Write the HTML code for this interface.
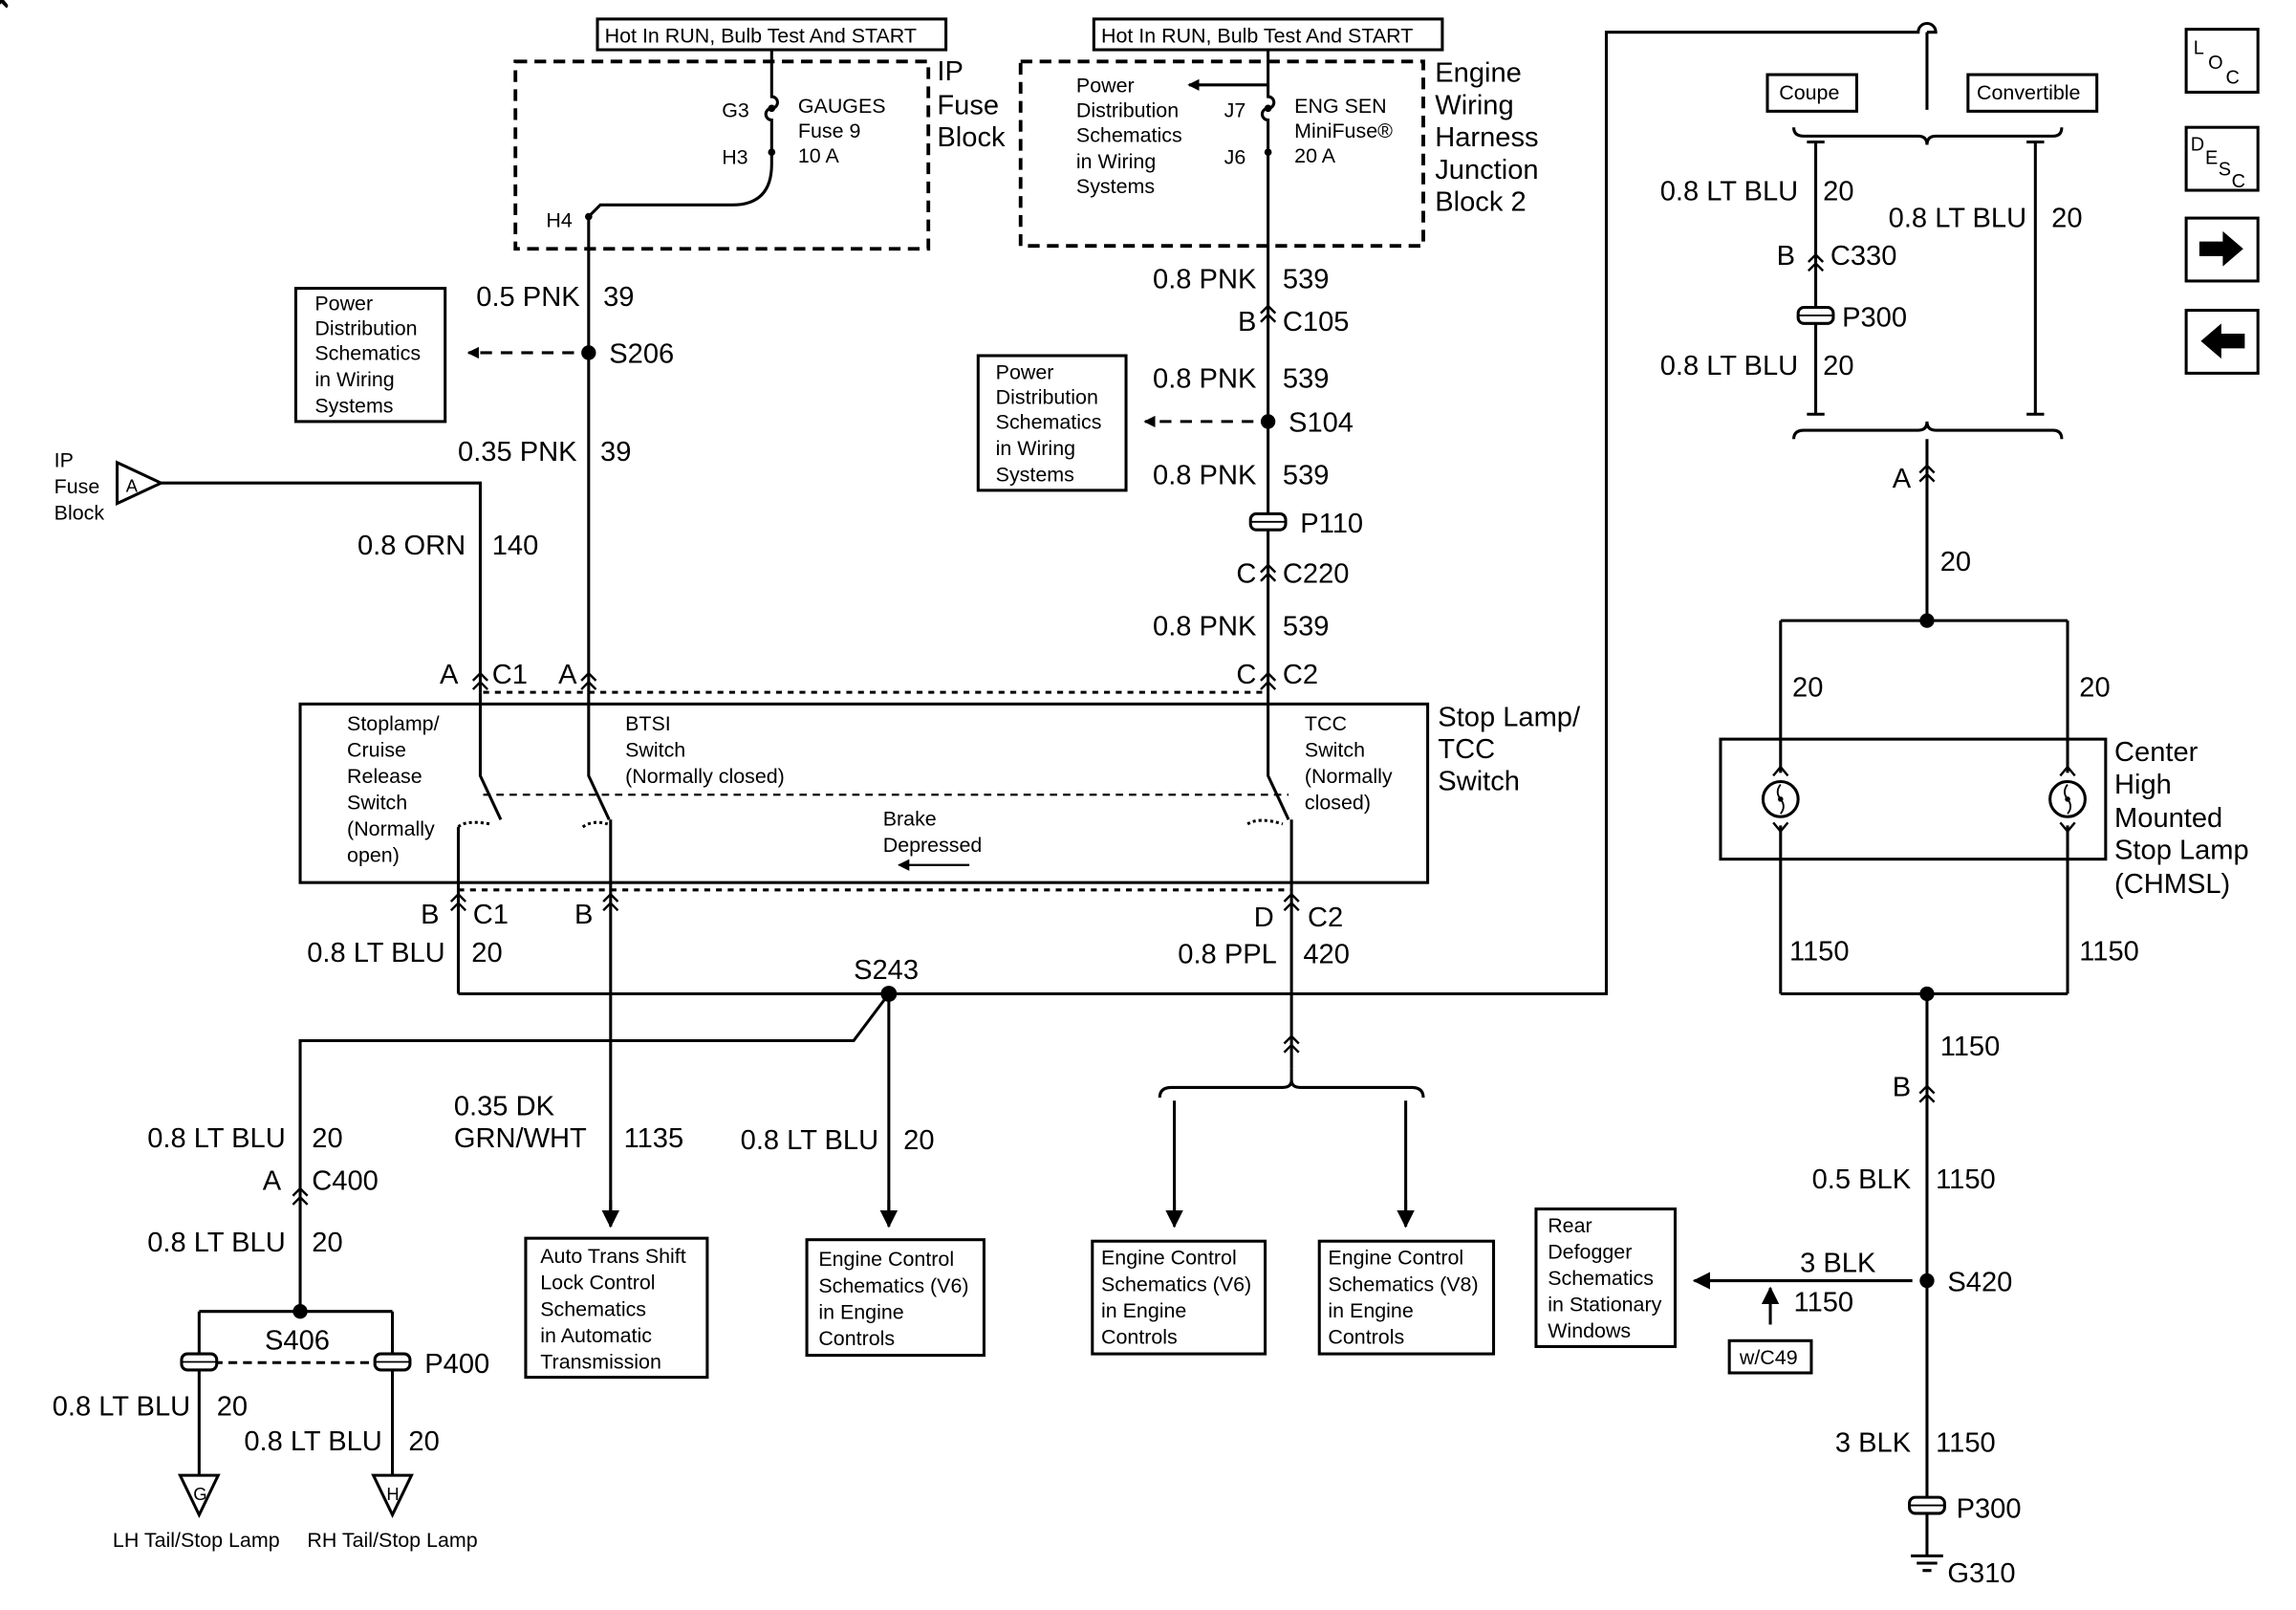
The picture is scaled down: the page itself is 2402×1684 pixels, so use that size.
<!DOCTYPE html>
<html><head><meta charset="utf-8"><style>
html,body{margin:0;padding:0;background:#fff}
svg{display:block}
text{font-family:"Liberation Sans",Arial,sans-serif;fill:#000}
.l{font-size:19px}
.s{font-size:14px}
</style></head><body>
<svg width="2402" height="1684" viewBox="0 0 1568 1100" preserveAspectRatio="none" xmlns="http://www.w3.org/2000/svg">
<defs>
<marker id="ar" markerWidth="8" markerHeight="8" refX="7" refY="4" orient="auto" markerUnits="userSpaceOnUse"><path d="M0,0 L8,4 L0,8 z" fill="#000"/></marker>
<marker id="ab" markerWidth="12" markerHeight="12" refX="11" refY="6" orient="auto" markerUnits="userSpaceOnUse"><path d="M0,0 L12,6 L0,12 z" fill="#000"/></marker>
</defs>
<g fill="none" stroke="#000" stroke-width="2">
<rect x="408" y="13" width="238" height="21"/>
<rect x="352" y="42" width="282" height="128" stroke-dasharray="8,5" stroke-width="2.5"/>
<path d="M527 34 V66 a4 4 0 0 1 0 8 a4 4 0 0 0 0 8 V112 Q527 140 500 140 H410 L402 148"/>
<path d="M402 148 V473"/>
<rect x="747" y="13" width="238" height="21"/>
<rect x="697" y="42" width="275" height="126" stroke-dasharray="8,5" stroke-width="2.5"/>
<path d="M866 34 V66 a4 4 0 0 1 0 8 a4 4 0 0 0 0 8 V473"/>
<path d="M866 58 H812" marker-end="url(#ar)"/>
<rect x="202" y="197" width="102" height="91"/>
<path d="M392 241 H320" stroke-dasharray="8,6" marker-end="url(#ar)"/>
<rect x="668" y="243" width="101" height="92"/>
<path d="M856 288 H782" stroke-dasharray="8,6" marker-end="url(#ar)"/>
<path d="M110 330 L80 316 V344 Z M110 330 H328 V473"/>
<rect x="205" y="481" width="770" height="122"/>
<path d="M330 473 H866" stroke-dasharray="4,4"/>
<path d="M313 608 H882" stroke-dasharray="4,4"/>
<path d="M328 473 V530 L342 560 M402 473 V530 L416 560 M866 473 V530 L880 560"/>
<path d="M330 543 H880" stroke-dasharray="5,4" stroke-width="1.5"/>
<path d="M313 565 Q318 560 335 563 M398 565 Q405 560 415 563 M852 563 Q860 558 876 563" stroke-dasharray="2,2"/>
<path d="M313 565 V679 M417 560 V836 M882 560 V730"/>
<path d="M662 591 H614" marker-end="url(#ar)" stroke-width="1.5"/>
<path d="M313 679 H1097 V22 H1310 a6 6 0 0 1 12 0 H1316 M1316 22 V75"/>
<path d="M607 679 L583 711 H205 V896 M607 679 V836"/>
<path d="M882 730 V738 Q882 743 876 743 H800 Q792 743 792 750 M882 738 Q882 743 888 743 H964 Q972 743 972 750"/>
<path d="M802 752 V836 M960 752 V836"/>
<path d="M417 820 V838" marker-end="url(#ab)"/>
<path d="M607 820 V838" marker-end="url(#ab)"/>
<path d="M802 820 V838" marker-end="url(#ab)"/>
<path d="M960 820 V838" marker-end="url(#ab)"/>
<rect x="359" y="846" width="124" height="95"/>
<rect x="551" y="847" width="121" height="79"/>
<rect x="746" y="848" width="118" height="77"/>
<rect x="901" y="848" width="119" height="77"/>
<path d="M136 896 H268 M136 896 V1008 M268 896 V1008"/>
<path d="M146 931 H258" stroke-dasharray="6,4"/>
<path d="M136 1035 L123 1008 H149 Z M268 1035 L255 1008 H281 Z"/>
<rect x="1207" y="51" width="61" height="25"/>
<rect x="1344" y="51" width="88" height="25"/>
<path d="M1225 87 Q1225 93 1232 93 H1310 Q1316 93 1316 99 Q1316 93 1322 93 H1402 Q1408 93 1408 87"/>
<path d="M1240 97 V283 M1390 97 V283 M1234 97 H1246 M1384 97 H1396 M1234 283 H1246 M1384 283 H1396"/>
<path d="M1225 300 Q1225 294 1232 294 H1310 Q1316 294 1316 288 Q1316 294 1322 294 H1402 Q1408 294 1408 300"/>
<path d="M1316 300 V424 M1216 424 H1412 M1216 424 V528 M1412 424 V528"/>
<rect x="1175" y="505" width="263" height="82"/>
<circle cx="1216" cy="546" r="12"/><circle cx="1412" cy="546" r="12"/>
<path d="M1216 536 Q1212 541 1216 546 Q1220 551 1216 556 M1412 536 Q1408 541 1412 546 Q1416 551 1412 556" stroke-width="1.2"/>
<path d="M1216 564 V679 M1412 564 V679 M1216 679 H1412 M1316 679 V1063"/>
<path d="M1306 875 H1157" marker-end="url(#ab)"/>
<path d="M1209 905 V880" marker-end="url(#ab)"/>
<rect x="1181" y="916" width="56" height="22"/>
<rect x="1049" y="826" width="95" height="94"/>
<rect x="1493" y="20" width="49" height="43"/>
<rect x="1493" y="87" width="49" height="43"/>
<rect x="1493" y="149" width="49" height="43"/>
<rect x="1493" y="212" width="49" height="43"/>
</g>
<path d="M1502 165 H1518 V158 L1532 170 L1518 182 V175 H1502 Z M1533 228 H1517 V221 L1503 233 L1517 245 V238 H1533 Z" fill="#000"/>
<path d="M1305 1063 H1327 M1309 1068 H1323 M1313 1073 H1319" stroke="#000" stroke-width="2"/>
<g fill="none" stroke="#000" stroke-width="1.6">
<path id="cn" d="M-5 -1 L0 -6 L5 -1 M-5 5 L0 0 L5 5"/>
<path id="cu" d="M-5 4 L0 -2 L5 4"/>
<path id="cd" d="M-5 -4 L0 2 L5 -4"/>
</g>
<g fill="none" stroke="#000" stroke-width="1.6">
<use href="#cn" x="866" y="215"/><use href="#cn" x="866" y="392"/><use href="#cn" x="866" y="466"/>
<use href="#cn" x="328" y="466"/><use href="#cn" x="402" y="466"/>
<use href="#cn" x="313" y="617"/><use href="#cn" x="417" y="617"/><use href="#cn" x="882" y="617"/>
<use href="#cn" x="205" y="818"/><use href="#cn" x="1240" y="180"/><use href="#cn" x="1316" y="324"/>
<use href="#cn" x="1316" y="748"/><use href="#cn" x="882" y="714"/>
<use href="#cu" x="1216" y="526"/><use href="#cu" x="1412" y="526"/>
<use href="#cd" x="1216" y="566"/><use href="#cd" x="1412" y="566"/>
</g>
<g fill="#fff" stroke="#000" stroke-width="2">
<rect x="854" y="351" width="24" height="11" rx="4"/>
<rect x="1228" y="210" width="24" height="11" rx="4"/>
<rect x="124" y="925" width="24" height="11" rx="4"/>
<rect x="256" y="925" width="24" height="11" rx="4"/>
<rect x="1304" y="1023" width="24" height="11" rx="4"/>
</g>
<g stroke="#000" stroke-width="1.2">
<path d="M854 356.5 H878 M1228 215.5 H1252 M124 930.5 H148 M256 930.5 H280 M1304 1028.5 H1328"/>
</g>
<g fill="#000">
<circle cx="402" cy="241" r="5"/><circle cx="866" cy="288" r="5"/><circle cx="607" cy="679" r="5.5"/>
<circle cx="205" cy="896" r="5"/><circle cx="1316" cy="424" r="5"/><circle cx="1316" cy="679" r="5"/>
<circle cx="1316" cy="875" r="5"/><circle cx="402" cy="148" r="2.5"/><circle cx="527" cy="74" r="2.5"/>
<circle cx="527" cy="104" r="2.5"/><circle cx="866" cy="74" r="2.5"/><circle cx="866" cy="104" r="2.5"/>
<circle cx="1216" cy="546" r="1.8"/><circle cx="1412" cy="546" r="1.8"/>
</g>
<g class="s">
<text x="413" y="29">Hot In RUN, Bulb Test And START</text>
<text x="752" y="29">Hot In RUN, Bulb Test And START</text>
<text x="545" y="77">GAUGES</text><text x="545" y="94">Fuse 9</text><text x="545" y="111">10 A</text>
<text x="493" y="80">G3</text><text x="493" y="112">H3</text><text x="373" y="155">H4</text>
<text x="735" y="63">Power</text><text x="735" y="80">Distribution</text><text x="735" y="97">Schematics</text><text x="735" y="115">in Wiring</text><text x="735" y="132">Systems</text>
<text x="836" y="80">J7</text><text x="836" y="112">J6</text>
<text x="884" y="77">ENG SEN</text><text x="884" y="94">MiniFuse®</text><text x="884" y="111">20 A</text>
<text x="215" y="212">Power</text><text x="215" y="229">Distribution</text><text x="215" y="246">Schematics</text><text x="215" y="264">in Wiring</text><text x="215" y="282">Systems</text>
<text x="680" y="259">Power</text><text x="680" y="276">Distribution</text><text x="680" y="293">Schematics</text><text x="680" y="311">in Wiring</text><text x="680" y="329">Systems</text>
<text x="37" y="319">IP</text><text x="37" y="337">Fuse</text><text x="37" y="355">Block</text>
<text x="86" y="336" font-size="12">A</text>
<text x="237" y="499">Stoplamp/</text><text x="237" y="517">Cruise</text><text x="237" y="535">Release</text><text x="237" y="553">Switch</text><text x="237" y="571">(Normally</text><text x="237" y="589">open)</text>
<text x="427" y="499">BTSI</text><text x="427" y="517">Switch</text><text x="427" y="535">(Normally closed)</text>
<text x="891" y="499">TCC</text><text x="891" y="517">Switch</text><text x="891" y="535">(Normally</text><text x="891" y="553">closed)</text>
<text x="603" y="564">Brake</text><text x="603" y="582">Depressed</text>
<text x="369" y="863">Auto Trans Shift</text><text x="369" y="881">Lock Control</text><text x="369" y="899">Schematics</text><text x="369" y="917">in Automatic</text><text x="369" y="935">Transmission</text>
<text x="559" y="865">Engine Control</text><text x="559" y="883">Schematics (V6)</text><text x="559" y="901">in Engine</text><text x="559" y="919">Controls</text>
<text x="752" y="864">Engine Control</text><text x="752" y="882">Schematics (V6)</text><text x="752" y="900">in Engine</text><text x="752" y="918">Controls</text>
<text x="907" y="864">Engine Control</text><text x="907" y="882">Schematics (V8)</text><text x="907" y="900">in Engine</text><text x="907" y="918">Controls</text>
<text x="1057" y="842">Rear</text><text x="1057" y="860">Defogger</text><text x="1057" y="878">Schematics</text><text x="1057" y="896">in Stationary</text><text x="1057" y="914">Windows</text>
<text x="1188" y="932">w/C49</text>
<text x="1215" y="68">Coupe</text><text x="1350" y="68">Convertible</text>
<text x="134" y="1057" text-anchor="middle">LH Tail/Stop Lamp</text><text x="268" y="1057" text-anchor="middle">RH Tail/Stop Lamp</text>
<text x="132" y="1025" font-size="12">G</text><text x="264" y="1025" font-size="12">H</text>
</g>
<g class="l">
<text x="640" y="55">IP</text><text x="640" y="78">Fuse</text><text x="640" y="100">Block</text>
<text x="980" y="56">Engine</text><text x="980" y="78">Wiring</text><text x="980" y="100">Harness</text><text x="980" y="122">Junction</text><text x="980" y="144">Block 2</text>
<text x="396" y="209" text-anchor="end">0.5 PNK</text><text x="412" y="209">39</text>
<text x="416" y="248">S206</text>
<text x="394" y="315" text-anchor="end">0.35 PNK</text><text x="410" y="315">39</text>
<text x="318" y="379" text-anchor="end">0.8 ORN</text><text x="336" y="379">140</text>
<text x="858" y="197" text-anchor="end">0.8 PNK</text><text x="876" y="197">539</text>
<text x="858" y="226" text-anchor="end">B</text><text x="876" y="226">C105</text>
<text x="858" y="265" text-anchor="end">0.8 PNK</text><text x="876" y="265">539</text>
<text x="880" y="295">S104</text>
<text x="858" y="331" text-anchor="end">0.8 PNK</text><text x="876" y="331">539</text>
<text x="888" y="364">P110</text>
<text x="858" y="398" text-anchor="end">C</text><text x="876" y="398">C220</text>
<text x="858" y="434" text-anchor="end">0.8 PNK</text><text x="876" y="434">539</text>
<text x="858" y="467" text-anchor="end">C</text><text x="876" y="467">C2</text>
<text x="313" y="467" text-anchor="end">A</text><text x="336" y="467">C1</text>
<text x="394" y="467" text-anchor="end">A</text>
<text x="982" y="496">Stop Lamp/</text><text x="982" y="518">TCC</text><text x="982" y="540">Switch</text>
<text x="300" y="631" text-anchor="end">B</text><text x="323" y="631">C1</text>
<text x="405" y="631" text-anchor="end">B</text>
<text x="870" y="633" text-anchor="end">D</text><text x="893" y="633">C2</text>
<text x="304" y="657" text-anchor="end">0.8 LT BLU</text><text x="322" y="657">20</text>
<text x="583" y="669">S243</text>
<text x="872" y="658" text-anchor="end">0.8 PPL</text><text x="890" y="658">420</text>
<text x="310" y="762">0.35 DK</text><text x="310" y="784">GRN/WHT</text><text x="426" y="784">1135</text>
<text x="600" y="785" text-anchor="end">0.8 LT BLU</text><text x="617" y="785">20</text>
<text x="195" y="784" text-anchor="end">0.8 LT BLU</text><text x="213" y="784">20</text>
<text x="192" y="813" text-anchor="end">A</text><text x="213" y="813">C400</text>
<text x="195" y="855" text-anchor="end">0.8 LT BLU</text><text x="213" y="855">20</text>
<text x="203" y="922" text-anchor="middle">S406</text>
<text x="290" y="938">P400</text>
<text x="130" y="967" text-anchor="end">0.8 LT BLU</text><text x="148" y="967">20</text>
<text x="261" y="991" text-anchor="end">0.8 LT BLU</text><text x="279" y="991">20</text>
<text x="1228" y="137" text-anchor="end">0.8 LT BLU</text><text x="1245" y="137">20</text>
<text x="1384" y="155" text-anchor="end">0.8 LT BLU</text><text x="1401" y="155">20</text>
<text x="1226" y="181" text-anchor="end">B</text><text x="1250" y="181">C330</text>
<text x="1258" y="223">P300</text>
<text x="1228" y="256" text-anchor="end">0.8 LT BLU</text><text x="1245" y="256">20</text>
<text x="1305" y="333" text-anchor="end">A</text><text x="1325" y="390">20</text>
<text x="1224" y="476">20</text><text x="1420" y="476">20</text>
<text x="1444" y="520">Center</text><text x="1444" y="542">High</text><text x="1444" y="565">Mounted</text><text x="1444" y="587">Stop Lamp</text><text x="1444" y="610">(CHMSL)</text>
<text x="1222" y="656">1150</text><text x="1420" y="656">1150</text>
<text x="1325" y="721">1150</text>
<text x="1305" y="749" text-anchor="end">B</text>
<text x="1305" y="812" text-anchor="end">0.5 BLK</text><text x="1322" y="812">1150</text>
<text x="1281" y="869" text-anchor="end">3 BLK</text><text x="1225" y="896">1150</text>
<text x="1330" y="882">S420</text>
<text x="1305" y="992" text-anchor="end">3 BLK</text><text x="1322" y="992">1150</text>
<text x="1336" y="1037">P300</text>
<text x="1330" y="1081">G310</text>
</g>
<g font-size="13">
<text x="1498" y="37">L</text><text x="1508" y="47">O</text><text x="1520" y="57">C</text>
<text x="1496" y="103">D</text><text x="1506" y="112">E</text><text x="1515" y="120">S</text><text x="1524" y="128">C</text>
</g>
</svg>
</body></html>
